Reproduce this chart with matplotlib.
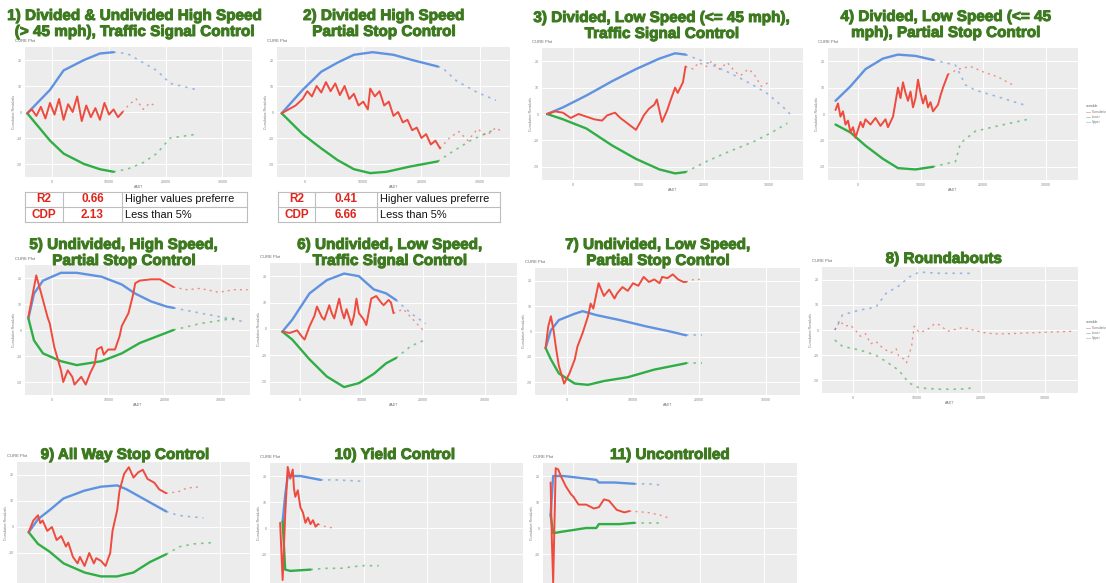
"""
Composite of eleven CURE plots (cumulative residuals vs AADT), one per
intersection type, laid out like the slide: green headline above each
panel, goodness-of-fit tables under panels 1 and 2.
"""

import matplotlib
matplotlib.use("Agg")
import matplotlib.pyplot as plt
import matplotlib.patheffects as pe

W, H = 1106, 583

BLUE = "#5f92e0"
GREEN = "#2fae45"
RED = "#ee4b3e"
TITLE_GREEN = "#3d7a1f"
PANEL_BG = "#ececec"
TABLE_RED = "#e0261c"

plt.rcParams["font.family"] = ["Liberation Sans", "DejaVu Sans"]

# ---- data (x and y in % of each panel) --------------------------------
P1_UP_X = [1, 11, 17, 26, 33, 39, 45, 52, 58, 64, 76]
P1_UP = [49, 67, 82, 90, 95, 96, 95, 88, 82, 72, 67]
P1_LO_X = [1, 11, 17, 26, 33, 39, 45, 52, 58, 64, 76]
P1_LO = [49, 28, 18, 10, 6, 4, 6, 11, 18, 30, 33]
P1_RES_X = [1, 3, 5, 7, 9, 11, 13, 15, 17, 19, 21, 23, 25, 27, 29, 31, 33,
            35, 37, 39, 41, 43, 46, 49, 52, 55, 58]
P1_RES = [49, 52, 47, 54, 45, 57, 48, 60, 44, 56, 50, 62, 43, 55, 46, 53, 44,
          57, 48, 52, 46, 50, 56, 60, 52, 57, 54]

P2_UP_X = [2, 11, 19, 26, 33, 41, 50, 58, 69, 71, 77, 86, 94]
P2_UP = [49, 67, 81, 88, 94, 96, 94, 90, 85, 84, 74, 65, 59]
P2_LO_X = [2, 11, 19, 26, 33, 40, 47, 57, 69, 74, 83, 94]
P2_LO = [49, 33, 22, 13, 6, 3, 4, 8, 12, 18, 28, 37]
P2_RES_X = [2, 5, 8, 11, 13, 15, 17, 19, 21, 23, 25, 27, 29, 31, 33, 35, 37,
            39, 40, 42, 44, 46, 48, 50, 52, 54, 56, 58, 60, 62, 64, 66, 68,
            70, 74, 78, 82, 86, 90, 94, 97]
P2_RES = [49, 52, 55, 60, 66, 62, 70, 65, 73, 66, 72, 63, 70, 60, 64, 55, 58,
          52, 68, 62, 66, 55, 58, 47, 50, 42, 44, 36, 38, 30, 33, 25, 28,
          22, 30, 35, 28, 37, 32, 38, 34]

P3_UP_X = [2, 8, 17, 27, 36, 45, 51, 55, 63, 71, 78, 86, 92, 95]
P3_UP = [50, 55, 64, 75, 84, 92, 96, 95, 89, 82, 75, 66, 56, 50]
P3_LO_X = [2, 8, 17, 27, 36, 45, 51, 55, 63, 71, 81, 88, 94]
P3_LO = [50, 46, 39, 26, 16, 8, 5, 6, 14, 21, 29, 36, 43]
P3_RES_X = [2, 5, 8, 11, 14, 17, 20, 23, 25, 28, 30, 32, 34, 36, 38, 39, 41,
            43, 44, 46, 48, 49, 51, 52, 54, 55, 58, 60, 63, 65, 68, 71, 74,
            76, 79, 81, 84, 87]
P3_RES = [50, 52, 51, 47, 50, 48, 46, 45, 49, 51, 47, 44, 41, 38, 45, 49, 54,
          57, 61, 44, 53, 59, 70, 66, 74, 86, 84, 89, 86, 90, 84, 89, 82,
          79, 84, 81, 71, 74]

P4_UP_X = [3, 9, 15, 22, 28, 35, 42, 51, 55, 59, 68, 80]
P4_UP = [60, 71, 84, 92, 95, 94, 91, 87, 72, 68, 63, 56]
P4_LO_X = [3, 9, 15, 22, 28, 35, 42, 51, 53, 59, 68, 80]
P4_LO = [42, 36, 26, 16, 9, 8, 10, 14, 28, 37, 41, 46]
P4_RES_X = [3, 4, 5, 6, 7, 8, 9, 10, 11, 12, 13, 14, 15, 17, 19, 21, 23, 24,
            26, 28, 29, 30, 31, 32, 33, 34, 35, 36, 37, 38, 39, 40, 41, 42,
            44, 45, 46, 48, 52, 57, 62, 68, 74]
P4_RES = [53, 58, 48, 52, 42, 45, 36, 40, 32, 38, 44, 40, 46, 42, 47, 41, 46,
          40, 48, 70, 62, 74, 66, 60, 67, 55, 62, 76, 66, 58, 64, 55, 59, 52,
          57, 64, 70, 80, 84, 86, 82, 78, 72]

P5_UP_X = [1.5, 4, 8, 16, 23, 34, 43, 49, 56, 63, 66, 78, 93, 98]
P5_UP = [59, 78, 88, 94, 94, 91, 85, 78, 72, 68, 67, 63, 58, 56]
P5_LO_X = [1.5, 4, 8, 16, 23, 34, 43, 51, 60, 66, 78, 93]
P5_LO = [59, 42, 32, 26, 23, 26, 32, 40, 46, 50, 55, 59]
P5_RES_X = [1.5, 5, 8, 10, 11, 13, 16, 17, 19, 21, 22, 25, 27, 29, 31, 32, 34,
            35, 37, 40, 42, 43, 46, 48, 49, 51, 56, 60, 63, 66, 72, 78, 86,
            93, 99]
P5_RES = [60, 92, 73, 60, 55, 37, 19, 10, 19, 14, 8, 14, 8, 17, 24, 35, 37,
          31, 35, 35, 45, 53, 63, 77, 86, 88, 89, 89, 86, 83, 81, 82, 79,
          81, 81]

P6_UP_X = [5, 9, 16, 23, 30, 36, 42, 47, 51, 57, 63]
P6_UP = [48, 57, 77, 87, 92, 90, 80, 77, 72, 62, 54]
P6_LO_X = [5, 9, 16, 23, 30, 36, 42, 47, 51, 57, 63]
P6_LO = [48, 42, 27, 14, 6, 9, 16, 24, 28, 37, 42]
P6_RES_X = [5, 8, 11, 13, 14, 16, 18, 19, 21, 22, 24, 25, 26, 28, 29, 30, 31,
            33, 34, 35, 36, 38, 39, 41, 43, 45, 46, 48, 49, 50, 54, 58, 62]
P6_RES = [48, 47, 49, 44, 42, 52, 60, 67, 59, 57, 68, 62, 58, 73, 64, 58, 65,
          53, 60, 73, 62, 57, 53, 73, 75, 70, 68, 72, 70, 62, 65, 57, 49]

P7_UP_X = [4, 6, 9, 15, 18, 23, 32, 42, 51, 57, 60, 63]
P7_UP = [37, 51, 59, 64, 66, 63, 59, 54, 50, 47, 47, 47]
P7_LO_X = [4, 6, 9, 15, 20, 26, 35, 45, 57, 63]
P7_LO = [37, 28, 17, 9, 8, 11, 14, 20, 25, 25]
P7_RES_X = [4, 5, 6, 7, 8, 9, 11, 13, 15, 16, 18, 20, 21, 22, 24, 26, 28, 30,
            31, 33, 35, 37, 39, 41, 43, 45, 47, 48, 50, 52, 54, 56, 57, 60, 63]
P7_RES = [37, 54, 62, 51, 36, 23, 9, 17, 28, 38, 49, 62, 72, 68, 88, 78, 83,
          76, 80, 85, 82, 88, 86, 93, 89, 91, 88, 93, 92, 95, 91, 89, 89, 91,
          91]

P8_UP_X = [5, 8, 15, 21, 25, 30, 34, 38, 46, 54, 59]
P8_UP = [50, 62, 66, 68, 79, 85, 92, 96, 95, 95, 95]
P8_LO_X = [5, 8, 15, 21, 25, 30, 34, 38, 46, 54, 59]
P8_LO = [42, 37, 34, 30, 25, 18, 8, 4, 3, 3, 4]
P8_RES_X = [5, 7, 9, 11, 13, 15, 17, 19, 21, 23, 25, 27, 29, 30, 32, 33, 35,
            36, 38, 41, 44, 46, 49, 51, 55, 59, 63, 67, 72, 98]
P8_RES = [50, 57, 53, 54, 50, 45, 47, 39, 41, 37, 34, 32, 35, 29, 27, 24, 37,
          53, 48, 50, 55, 54, 49, 50, 52, 50, 48, 47, 47, 49]

P9_UP_X = [5, 9, 14, 20, 29, 36, 43, 47, 53, 59, 64, 69, 74, 80]
P9_UP = [46, 56, 63, 72, 78, 81, 82, 79, 73, 67, 62, 59, 58, 57]
P9_LO_X = [5, 9, 14, 20, 29, 36, 43, 50, 57, 64, 70, 76, 84]
P9_LO = [46, 37, 31, 22, 15, 12, 12, 15, 23, 29, 35, 37, 38]
P9_RES_X = [5, 7, 9, 10, 11, 13, 15, 17, 19, 21, 22, 24, 26, 27, 29, 31, 33,
            34, 36, 38, 40, 41, 43, 44, 46, 48, 50, 52, 54, 56, 59, 61, 64,
            69, 73, 79]
P9_RES = [46, 55, 59, 53, 55, 47, 50, 40, 43, 35, 38, 27, 22, 27, 20, 30, 22,
          26, 24, 20, 30, 47, 63, 78, 91, 96, 88, 92, 94, 87, 84, 79, 76,
          77, 80, 81]

P10_UP_X = [5, 6, 7, 12, 20, 26, 36]
P10_UP = [55, 75, 90, 90, 87, 87, 86]
P10_LO_X = [5, 6, 8, 16, 22, 28, 36, 43]
P10_LO = [55, 18, 17, 18, 19, 19, 21, 21]
P10_RES_X = [4, 5, 6, 7, 8, 9, 9.5, 10, 11, 12, 13, 14, 15, 16, 17, 18, 19,
             22, 25]
P10_RES = [54, 10, 60, 97, 88, 95, 80, 74, 79, 66, 62, 54, 58, 53, 56, 51, 53,
           51, 50]

P11_UP_X = [3, 4, 8, 17, 21, 22, 28, 36, 41, 47]
P11_UP = [60, 90, 90, 88, 87, 85, 85, 84, 84, 83]
P11_LO_X = [3, 4, 7, 17, 21, 22, 30, 36, 41, 47]
P11_LO = [60, 46, 47, 50, 50, 53, 53, 54, 54, 54]
P11_RES_X = [3, 3.5, 4, 5, 6, 7, 9, 11, 12, 14, 17, 20, 22, 24, 26, 29, 32,
             34, 41, 46, 49]
P11_RES = [85, 40, 8, 96, 95, 90, 82, 76, 74, 68, 68, 65, 66, 72, 71, 64, 62,
           63, 62, 60, 58]

# where the solid part of the curves stops and sparse points take over
SOLID_END = [43, 70, 55, 50, 66, 51, 57, 0, 64, 20, 36]

TITLES = [
    ["1) Divided & Undivided High Speed", "(> 45 mph), Traffic Signal Control"],
    ["2) Divided High Speed", "Partial Stop Control"],
    ["3) Divided, Low Speed (<= 45 mph),", "Traffic Signal Control"],
    ["4) Divided, Low Speed (<= 45", "mph), Partial Stop Control"],
    ["5) Undivided, High Speed,", "Partial Stop Control"],
    ["6) Undivided, Low Speed,", "Traffic Signal Control"],
    ["7) Undivided, Low Speed,", "Partial Stop Control"],
    ["8) Roundabouts"],
    ["9) All Way Stop Control"],
    ["10) Yield Control"],
    ["11) Uncontrolled"],
]

TABLE_METRICS = ["R2", "CDP"]
TABLE_NOTES = ["Higher values preferre", "Less than 5%"]
TABLE1_VALUES = ["0.66", "2.13"]
TABLE2_VALUES = ["0.41", "6.66"]

X_TICK_LABELS = ["0", "10000", "20000", "30000"]
Y_TICK_LABELS = ["-20", "-10", "0", "10", "20"]

# ---- layout in pixels of the 1106x583 slide ---------------------------
# panel plot area (left, top, right, bottom); bottom row runs off the slide
BOXES = [
    (25, 47, 252, 177), (277, 47, 510, 177), (542, 48, 803, 180),
    (828, 48, 1078, 180),
    (25, 265, 250, 395), (270, 263, 517, 395), (535, 268, 800, 395),
    (822, 267, 1078, 393),
    (17, 462, 250, 592), (270, 463, 523, 593), (543, 463, 797, 593),
]
# title line anchors (x centre, y of first line)
TITLE_POS = [(135, 16), (384, 16), (662, 18), (946, 17),
             (124, 245), (390, 245), (658, 245), (944, 259),
             (125, 455), (395, 455), (670, 455)]


def fx(px):
    return px / W


def fy(py):
    return 1 - py / H


def split_series(xs, ys, cut):
    solid = [(x, y) for x, y in zip(xs, ys) if x <= cut]
    rest = [(x, y) for x, y in zip(xs, ys) if x >= cut]
    if solid and rest and solid[-1] != rest[0]:
        rest.insert(0, solid[-1])
    return solid, rest


def draw_curve(ax, xs, ys, cut, color, lw):
    solid, rest = split_series(xs, ys, cut)
    if len(solid) > 1:
        ax.plot(*zip(*solid), color=color, lw=lw, solid_capstyle="round")
    if len(rest) > 1:
        ax.plot(*zip(*rest), color=color, lw=lw * 0.7,
                linestyle=(0, (1.5, 3.0)), alpha=0.6)


def draw_panel(fig, box, series, cut):
    l, t, r, b = box
    ymin = 0
    cropped = b > H
    if cropped:
        # the slide cuts these panels off; keep the visible part only
        ymin = 100 * (b - H) / (b - t)
        b = H
    ax = fig.add_axes([fx(l), fy(b), fx(r - l), (b - t) / H])
    ax.set_facecolor(PANEL_BG)
    ax.set_xlim(0, 100)
    ax.set_ylim(ymin, 100)
    ax.set_xticks([12, 37, 62, 87])
    yt = [10, 30, 50, 70, 90]
    if cropped:
        ax.set_xticklabels([])
        ax.set_yticks(yt[1:])
        ax.set_yticklabels(Y_TICK_LABELS[1:])
    else:
        ax.set_xticklabels(X_TICK_LABELS)
        ax.set_yticks(yt)
        ax.set_yticklabels(Y_TICK_LABELS)
        ax.set_xlabel("AADT", fontsize=2.5, color="#777", labelpad=1)
    ax.tick_params(labelsize=2.5, labelcolor="#888", length=0, pad=2)
    ax.grid(True, color="white", lw=0.7)
    ax.set_axisbelow(True)
    for s in ax.spines.values():
        s.set_visible(False)
    ax.set_ylabel("Cumulative Residuals", fontsize=2.5, color="#777",
                  labelpad=1)

    up_x, up, lo_x, lo, res_x, res = series
    draw_curve(ax, up_x, up, cut, BLUE, 1.7)
    draw_curve(ax, lo_x, lo, cut, GREEN, 1.7)
    draw_curve(ax, res_x, res, cut, RED, 1.4)

    fig.text(fx(l - 10), fy(t - 4), "CURE Plot", fontsize=3, color="#666",
             ha="left", va="bottom")
    return ax


def draw_table(fig, cols, top, values):
    # cols: x of the four vertical borders, rows are 15 px high
    row_h = 15
    line_kw = dict(color="#bdbdbd", lw=0.8)
    for i in range(3):
        y = top + i * row_h
        fig.add_artist(plt.Line2D([fx(cols[0]), fx(cols[3])], [fy(y), fy(y)],
                                  transform=fig.transFigure, **line_kw))
    for c in cols:
        fig.add_artist(plt.Line2D([fx(c), fx(c)],
                                  [fy(top), fy(top + 2 * row_h)],
                                  transform=fig.transFigure, **line_kw))
    for i in range(2):
        yc = fy(top + (i + 0.5) * row_h)
        fig.text(fx((cols[0] + cols[1]) / 2), yc, TABLE_METRICS[i],
                 fontsize=8.5, fontweight="bold", color=TABLE_RED,
                 ha="center", va="center")
        fig.text(fx((cols[1] + cols[2]) / 2), yc, values[i],
                 fontsize=8.5, fontweight="bold", color=TABLE_RED,
                 ha="center", va="center")
        fig.text(fx(cols[2] + 3), yc, TABLE_NOTES[i], fontsize=7.9,
                 color="#111", ha="left", va="center")


def draw_legend(fig, x, y):
    fig.text(fx(x), fy(y), "variable", fontsize=2.5, color="#666",
             ha="left", va="center")
    for i, (lab, col) in enumerate([("Cumulative", RED), ("Lower", GREEN),
                                    ("Upper", BLUE)]):
        yy = y + 6 + i * 5
        fig.add_artist(plt.Line2D([fx(x), fx(x + 4)], [fy(yy), fy(yy)],
                                  transform=fig.transFigure, color=col,
                                  lw=0.5, alpha=0.6))
        fig.text(fx(x + 6), fy(yy), lab, fontsize=2.3, color="#777",
                 ha="left", va="center")


def main():
    fig = plt.figure(figsize=(W / 100, H / 100), dpi=100, facecolor="white")

    panels = [
        (P1_UP_X, P1_UP, P1_LO_X, P1_LO, P1_RES_X, P1_RES),
        (P2_UP_X, P2_UP, P2_LO_X, P2_LO, P2_RES_X, P2_RES),
        (P3_UP_X, P3_UP, P3_LO_X, P3_LO, P3_RES_X, P3_RES),
        (P4_UP_X, P4_UP, P4_LO_X, P4_LO, P4_RES_X, P4_RES),
        (P5_UP_X, P5_UP, P5_LO_X, P5_LO, P5_RES_X, P5_RES),
        (P6_UP_X, P6_UP, P6_LO_X, P6_LO, P6_RES_X, P6_RES),
        (P7_UP_X, P7_UP, P7_LO_X, P7_LO, P7_RES_X, P7_RES),
        (P8_UP_X, P8_UP, P8_LO_X, P8_LO, P8_RES_X, P8_RES),
        (P9_UP_X, P9_UP, P9_LO_X, P9_LO, P9_RES_X, P9_RES),
        (P10_UP_X, P10_UP, P10_LO_X, P10_LO, P10_RES_X, P10_RES),
        (P11_UP_X, P11_UP, P11_LO_X, P11_LO, P11_RES_X, P11_RES),
    ]
    for box, series, cut in zip(BOXES, panels, SOLID_END):
        draw_panel(fig, box, series, cut)

    heavy = [pe.withStroke(linewidth=0.7, foreground=TITLE_GREEN)]
    for lines, (cx, y0) in zip(TITLES, TITLE_POS):
        for k, line in enumerate(lines):
            fig.text(fx(cx), fy(y0 + k * 16), line, fontsize=11,
                     fontweight="bold", color=TITLE_GREEN,
                     ha="center", va="center", path_effects=heavy)

    draw_table(fig, [25, 63, 122, 247], 192, TABLE1_VALUES)
    draw_table(fig, [278, 315, 377, 500], 192, TABLE2_VALUES)

    draw_legend(fig, 1086, 106)
    draw_legend(fig, 1086, 322)

    fig.savefig("out.png", dpi=100, facecolor="white")
    plt.close(fig)


if __name__ == "__main__":
    main()
